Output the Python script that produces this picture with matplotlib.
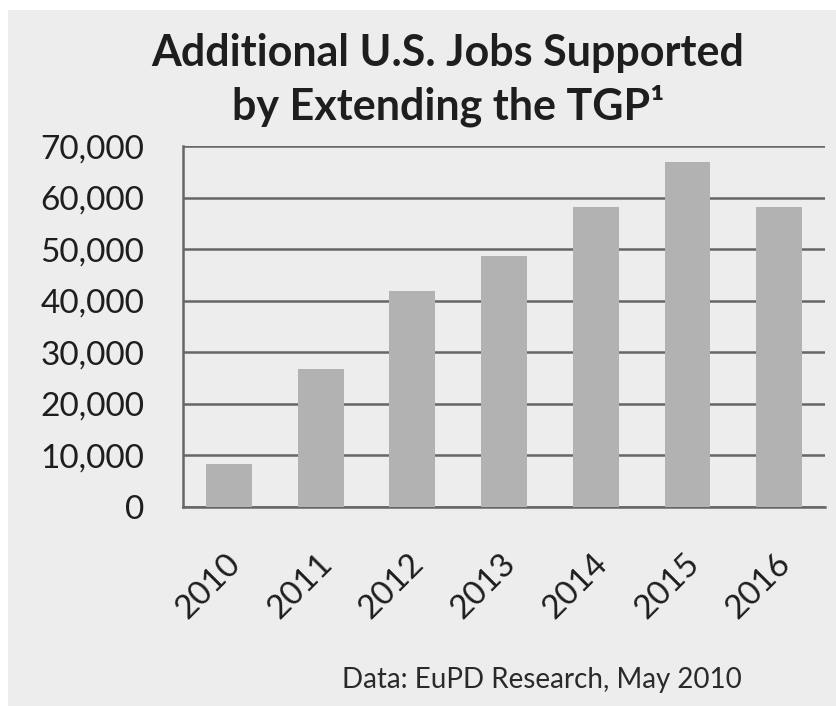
import matplotlib.pyplot as plt
import matplotlib.transforms as mtransforms
from matplotlib.patches import Rectangle
from matplotlib.ticker import FuncFormatter

years = ["2010", "2011", "2012", "2013", "2014", "2015", "2016"]
jobs = [8300, 26800, 41800, 48600, 58200, 66900, 58200]

plt.rcParams['font.family'] = ['Lato', 'DejaVu Sans']

bg = '#ededed'
fig = plt.figure(figsize=(8.36, 7.06), dpi=100, facecolor='white')
# scanned page background (thin white margin on top and left)
fig.add_artist(Rectangle((8 / 836, 0), 1, 1 - 10 / 706, transform=fig.transFigure,
                         facecolor=bg, edgecolor='none', zorder=-10))

ax = fig.add_axes([0.219, 0.282, 0.768, 0.511])
ax.set_facecolor(bg)

x = range(len(years))
ax.bar(x, jobs, width=0.5, color='#b2b2b2', zorder=3)

ax.set_xlim(-0.5, 6.5)
ax.set_ylim(0, 70000)
ax.set_yticks(range(0, 70001, 10000))
ax.yaxis.set_major_formatter(FuncFormatter(lambda v, p: f"{int(v):,}"))
ax.grid(axis='y', color='#666666', linewidth=1.8, zorder=1)
ax.set_axisbelow(True)

for s in ['top', 'right']:
    ax.spines[s].set_visible(False)
for s in ['left', 'bottom']:
    ax.spines[s].set_color('#666666')
    ax.spines[s].set_linewidth(1.8)

ax.tick_params(axis='y', length=0, pad=28, labelsize=24, colors='#1e1e1e')
ax.tick_params(axis='x', length=0, pad=0, labelsize=24, colors='#1e1e1e')
ax.set_xticks(list(x))
ax.set_xticklabels(years, rotation=45, ha='right', va='center', rotation_mode='anchor')
offset = mtransforms.ScaledTranslation(7 / 100, -52 / 100, fig.dpi_scale_trans)
for lab in ax.get_xticklabels():
    lab.set_transform(lab.get_transform() + offset)

fig.text(0.536, 0.887, "Additional U.S. Jobs Supported\nby Extending the TGP\u00b9",
         ha='center', va='center', fontsize=31, fontweight='bold',
         color='#1e1e1e', linespacing=1.32)
fig.text(0.648, 0.037, "Data: EuPD Research, May 2010", ha='center', va='center',
         fontsize=20, color='#2a2a2a')

fig.savefig('out.png', dpi=100, facecolor=fig.get_facecolor())
